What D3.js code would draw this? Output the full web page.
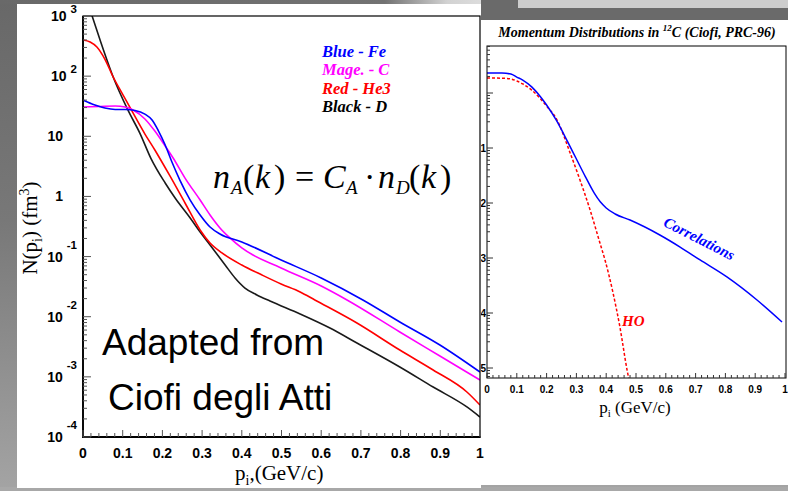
<!DOCTYPE html>
<html>
<head>
<meta charset="utf-8">
<script src="https://cdn.jsdelivr.net/npm/d3@7/dist/d3.min.js"></script>
<style>
html, body { margin: 0; padding: 0; background: #6c6c6c; overflow: hidden; }
svg { display: block; }
</style>
</head>
<body>
<svg id="chart" width="788" height="491"></svg>
<script>
// ---- Momentum distributions N(p_i) in fm^3, per nucleus (left panel) ----
const kFe = [0, 0.030, 0.055, 0.081, 0.106, 0.131, 0.156, 0.174, 0.189, 0.207, 0.224, 0.244, 0.270, 0.295, 0.320, 0.345, 0.400, 0.499, 0.600, 0.705, 0.798, 0.899, 1.0];
const nFe = [40.1, 33.1, 29.5, 27.9, 27.9, 26.9, 23.4, 18.7, 12.7, 7.16, 3.73, 1.87, 0.871, 0.491, 0.310, 0.237, 0.175, 0.0877, 0.0441, 0.0190, 0.00817, 0.00338, 0.00120];

const kC = [0, 0.043, 0.081, 0.106, 0.126, 0.156, 0.181, 0.207, 0.227, 0.257, 0.295, 0.320, 0.345, 0.370, 0.400, 0.499, 0.600, 0.665, 0.798, 0.899, 1.0];
const nC = [30.7, 31.3, 31.8, 30.7, 27.4, 19.4, 12.2, 6.89, 4.36, 2.02, 0.871, 0.491, 0.299, 0.204, 0.139, 0.0646, 0.0324, 0.0190, 0.00557, 0.00222, 0.000885];

const kHe3 = [0, 0.018, 0.035, 0.055, 0.076, 0.101, 0.126, 0.156, 0.181, 0.219, 0.257, 0.295, 0.320, 0.350, 0.400, 0.451, 0.499, 0.547, 0.584, 0.690, 0.798, 0.882, 0.967, 1.0];
const nHe3 = [399, 370, 305, 192, 96.8, 48.5, 24.4, 10.9, 5.92, 2.19, 0.778, 0.277, 0.168, 0.115, 0.0724, 0.0493, 0.0350, 0.0258, 0.0190, 0.00785, 0.00279, 0.00130, 0.000560, 0.000340];

const kD = [0, 0.023, 0.043, 0.076, 0.113, 0.144, 0.171, 0.207, 0.232, 0.270, 0.295, 0.320, 0.358, 0.383, 0.408, 0.438, 0.471, 0.547, 0.622, 0.690, 0.798, 0.882, 0.967, 1.0];
const nD = [2700, 1000, 399, 96.8, 27.4, 11.0, 4.30, 1.67, 0.942, 0.438, 0.256, 0.156, 0.0724, 0.0441, 0.0300, 0.0230, 0.0182, 0.0111, 0.00649, 0.00366, 0.00146, 0.000678, 0.000316, 0.000215];

// ---- 12C: full calculation with correlations vs. harmonic oscillator (right panel) ----
const kCorr = [0, 0.05, 0.08, 0.10, 0.12, 0.15, 0.18, 0.20, 0.232, 0.27, 0.30, 0.33, 0.36, 0.38, 0.40, 0.43, 0.48, 0.58, 0.648, 0.715, 0.805, 0.906, 0.99];
const nCorr = [2.31, 2.31, 2.21, 1.95, 1.72, 1.29, 0.845, 0.605, 0.323, 0.132, 0.0631, 0.0302, 0.0151, 0.0105, 0.00813, 0.00631, 0.00490, 0.00262, 0.00158, 0.00092, 0.000452, 0.000172, 0.0000685];

const kHO = [0, 0.05, 0.08, 0.10, 0.12, 0.15, 0.18, 0.20, 0.235, 0.279, 0.312, 0.346, 0.379, 0.396, 0.423, 0.446, 0.47, 0.48];
const nHO = [1.87, 1.86, 1.80, 1.65, 1.46, 1.13, 0.778, 0.580, 0.323, 0.0811, 0.0262, 0.00746, 0.00187, 0.00092, 0.000231, 0.0000556, 0.0000092, 0.0000049];

// ---- axis labels and legend ----
const xTickLabels = ["0", "0.1", "0.2", "0.3", "0.4", "0.5", "0.6", "0.7", "0.8", "0.9", "1"];
const legendLabels = ["Blue - Fe", "Mage. - C", "Red - He3", "Black - D"];
const legendColors = ["#0000ff", "#ff00ff", "#ff0000", "#000000"];

const W = 788, H = 491;
const sans = "'Liberation Sans', Arial, Helvetica, sans-serif";
const serif = "'Liberation Serif', 'Times New Roman', Times, serif";

const svg = d3.select("#chart");
const defs = svg.append("defs");

// ---------- slide background ----------
const bgGrad = defs.append("linearGradient").attr("id", "bgGrad")
  .attr("x1", 0).attr("y1", 0).attr("x2", 0).attr("y2", 1);
bgGrad.append("stop").attr("offset", 0).attr("stop-color", "#686868");
bgGrad.append("stop").attr("offset", 0.45).attr("stop-color", "#787878");
bgGrad.append("stop").attr("offset", 1).attr("stop-color", "#a4a4a4");
svg.append("rect").attr("width", W).attr("height", H).attr("fill", "url(#bgGrad)");

const topGrad = defs.append("linearGradient").attr("id", "topGrad")
  .attr("x1", 0).attr("y1", 0).attr("x2", 1).attr("y2", 0);
topGrad.append("stop").attr("offset", 0).attr("stop-color", "#696969");
topGrad.append("stop").attr("offset", 0.8).attr("stop-color", "#727272");
topGrad.append("stop").attr("offset", 0.93).attr("stop-color", "#d2d2d2");
topGrad.append("stop").attr("offset", 1).attr("stop-color", "#dcdcdc");
svg.append("rect").attr("x", 0).attr("y", 0).attr("width", 481).attr("height", 4).attr("fill", "url(#topGrad)");
svg.append("rect").attr("x", 481).attr("y", 0).attr("width", 307).attr("height", 20).attr("fill", "#6a6a6a");
svg.append("rect").attr("x", 518).attr("y", 0).attr("width", 270).attr("height", 8).attr("fill", "#cdcdcd");
svg.append("rect").attr("x", 0).attr("y", 487).attr("width", W).attr("height", 4).attr("fill", "#a8a8a8");

// white panels
svg.append("rect").attr("x", 17).attr("y", 4).attr("width", 464).attr("height", 484).attr("fill", "#fff");
svg.append("rect").attr("x", 481).attr("y", 20).attr("width", 307).attr("height", 465).attr("fill", "#fff");

// helper: log-axis tick classification
const isDecade = v => Math.abs(Math.log10(v) - Math.round(Math.log10(v))) < 1e-6;

// =====================================================================
// Left panel: N(p_i) for Fe, C, He3, D
// =====================================================================
const L = { x0: 83, x1: 480, y0: 16, y1: 437 };
const xL = d3.scaleLinear().domain([0, 1]).range([L.x0, L.x1]);
const yL = d3.scaleLog().domain([1e-4, 1e3]).range([L.y1, L.y0]);

defs.append("clipPath").attr("id", "clipL").append("rect")
  .attr("x", L.x0).attr("y", L.y0).attr("width", L.x1 - L.x0).attr("height", L.y1 - L.y0);

const gL = svg.append("g");

// text annotations (drawn under the curves)
gL.append("text").attr("x", 102).attr("y", 355)
  .attr("font-family", sans).attr("font-size", 37).attr("fill", "#000").text("Adapted from");
gL.append("text").attr("x", 108).attr("y", 410)
  .attr("font-family", sans).attr("font-size", 37).attr("fill", "#000").text("Ciofi degli Atti");

const lineL = d3.line().x(d => xL(d[0])).y(d => yL(d[1])).curve(d3.curveMonotoneX);
const seriesL = [
  { k: kD, n: nD, color: "#1a1a1a" },
  { k: kHe3, n: nHe3, color: "#ff0000" },
  { k: kC, n: nC, color: "#ff00ff" },
  { k: kFe, n: nFe, color: "#0000ff" }
];
const curvesL = gL.append("g").attr("clip-path", "url(#clipL)");
seriesL.forEach(s => {
  curvesL.append("path")
    .datum(s.k.map((k, i) => [k, s.n[i]]))
    .attr("d", lineL)
    .attr("fill", "none")
    .attr("stroke", s.color)
    .attr("stroke-width", 1.6);
});

// frame
gL.append("rect").attr("x", L.x0).attr("y", L.y0).attr("width", L.x1 - L.x0).attr("height", L.y1 - L.y0)
  .attr("fill", "none").attr("stroke", "#000").attr("stroke-width", 1.2);
gL.append("line").attr("x1", L.x0).attr("x2", L.x0).attr("y1", L.y0).attr("y2", L.y1 + 0.8)
  .attr("stroke", "#000").attr("stroke-width", 1.8);
gL.append("line").attr("x1", L.x0 - 0.8).attr("x2", L.x1 + 0.6).attr("y1", L.y1).attr("y2", L.y1)
  .attr("stroke", "#000").attr("stroke-width", 1.8);

// y ticks (inward) and labels
const yTicksL = yL.ticks();
gL.append("g").selectAll("line").data(yTicksL).join("line")
  .attr("x1", L.x0).attr("x2", d => L.x0 + (isDecade(d) ? 8 : 4))
  .attr("y1", d => yL(d)).attr("y2", d => yL(d))
  .attr("stroke", "#555").attr("stroke-width", 1);

const yLab = gL.append("g").attr("font-family", sans).attr("font-weight", "bold").attr("fill", "#000");
yTicksL.filter(isDecade).forEach(v => {
  const e = Math.round(Math.log10(v));
  const y = yL(v);
  if (e === 0 || e === 1) {
    yLab.append("text").attr("x", 63).attr("y", y + 5).attr("text-anchor", "end")
      .attr("font-size", 14).text(e === 0 ? "1" : "10");
  } else {
    const t = yLab.append("text").attr("x", 77).attr("y", y + 5).attr("text-anchor", "end").attr("font-size", 14);
    t.append("tspan").text("10");
    t.append("tspan").attr("dx", 4).attr("dy", e < 0 ? -13 : -8).attr("font-size", 11.5).text(String(e));
  }
});

// x ticks every 0.02, majors every 0.1
const xTicksL = d3.range(0, 51).map(i => i / 50);
gL.append("g").selectAll("line").data(xTicksL).join("line")
  .attr("x1", d => xL(d)).attr("x2", d => xL(d))
  .attr("y1", L.y1).attr("y2", (d, i) => L.y1 - (i % 5 === 0 ? 7 : 4))
  .attr("stroke", "#555").attr("stroke-width", 1);
gL.append("g").selectAll("text").data(xTickLabels).join("text")
  .attr("x", (d, i) => xL(i / 10)).attr("y", 458)
  .attr("text-anchor", "middle").attr("font-family", sans).attr("font-weight", "bold")
  .attr("font-size", 14).attr("fill", "#000").text(d => d);

// axis titles
const xtL = gL.append("text").attr("x", 235).attr("y", 480)
  .attr("font-family", serif).attr("font-size", 21).attr("fill", "#000");
xtL.append("tspan").text("p");
xtL.append("tspan").attr("dy", 5).attr("font-size", 14).text("i");
xtL.append("tspan").attr("dy", -5).text(",(GeV/c)");

const ytL = gL.append("text").attr("transform", "translate(37,228) rotate(-90)")
  .attr("text-anchor", "middle").attr("font-family", serif).attr("font-size", 21).attr("fill", "#000");
ytL.append("tspan").text("N(p");
ytL.append("tspan").attr("dy", 5).attr("font-size", 14).text("i");
ytL.append("tspan").attr("dy", -5).text(") (fm");
ytL.append("tspan").attr("dy", -8).attr("font-size", 14).text("3");
ytL.append("tspan").attr("dy", 8).text(")");

// legend
const leg = gL.append("g").attr("font-family", serif).attr("font-weight", "bold")
  .attr("font-style", "italic").attr("font-size", 16.5);
legendLabels.forEach((lab, i) => {
  leg.append("text").attr("x", 322).attr("y", 57 + i * 18.3).attr("fill", legendColors[i]).text(lab);
});

// scaling relation n_A(k) = C_A . n_D(k)
const eq = gL.append("g").attr("font-family", serif).attr("font-size", 34).attr("fill", "#000");
const eqMain = (x, s, it) => eq.append("text").attr("x", x).attr("y", 188)
  .attr("font-style", it ? "italic" : "normal").text(s);
const eqSub = (x, s) => eq.append("text").attr("x", x).attr("y", 194)
  .attr("font-style", "italic").attr("font-size", 19).text(s);
eqMain(213, "n", true); eqSub(231, "A");
eqMain(243, "(", false); eqMain(255, "k", true); eqMain(274, ")", false);
eqMain(295, "=", false);
eqMain(323, "C", true); eqSub(346, "A");
eqMain(364, "\u00b7", false);
eqMain(378, "n", true); eqSub(396, "D");
eqMain(409, "(", false); eqMain(421, "k", true); eqMain(440, ")", false);

// =====================================================================
// Right panel: 12C momentum distribution (correlated vs HO)
// =====================================================================
const R = { x0: 487, x1: 786, y0: 46, y1: 378 };
const xR = d3.scaleLinear().domain([0, 1]).range([487, 785]);
const yR = d3.scaleLog().domain([1e-5, 1e-1]).range([368, 148]);

defs.append("clipPath").attr("id", "clipR").append("rect")
  .attr("x", R.x0).attr("y", R.y0).attr("width", R.x1 - R.x0).attr("height", R.y1 - R.y0);
defs.append("clipPath").attr("id", "clipPanelR").append("rect")
  .attr("x", 481).attr("y", 20).attr("width", 307).attr("height", 465);

const gR = svg.append("g").attr("clip-path", "url(#clipPanelR)");

// title
const title = gR.append("text").attr("x", 637).attr("y", 37).attr("text-anchor", "middle")
  .attr("font-family", serif).attr("font-weight", "bold").attr("font-style", "italic")
  .attr("font-size", 14).attr("fill", "#000");
title.append("tspan").text("Momentum Distributions in ");
title.append("tspan").attr("dy", -6).attr("font-size", 9).text("12");
title.append("tspan").attr("dy", 6).text("C (Ciofi, PRC-96)");

const lineR = d3.line().x(d => xR(d[0])).y(d => yR(d[1])).curve(d3.curveMonotoneX);
const curvesR = gR.append("g").attr("clip-path", "url(#clipR)");
curvesR.append("path")
  .datum(kHO.map((k, i) => [k, nHO[i]]))
  .attr("d", lineR).attr("fill", "none").attr("stroke", "#ff0000")
  .attr("stroke-width", 1.5).attr("stroke-dasharray", "3,2");
curvesR.append("path")
  .datum(kCorr.map((k, i) => [k, nCorr[i]]))
  .attr("d", lineR).attr("fill", "none").attr("stroke", "#0000ff").attr("stroke-width", 1.5);

// frame
gR.append("rect").attr("x", R.x0).attr("y", R.y0).attr("width", R.x1 - R.x0).attr("height", R.y1 - R.y0)
  .attr("fill", "none").attr("stroke", "#000").attr("stroke-width", 1);

// y ticks over the visible range
const yTicksR = d3.scaleLog().domain([yR.invert(R.y1), yR.invert(R.y0)]).ticks();
gR.append("g").selectAll("line").data(yTicksR).join("line")
  .attr("x1", R.x0).attr("x2", d => R.x0 + (isDecade(d) ? 6 : 3))
  .attr("y1", d => yR(d)).attr("y2", d => yR(d))
  .attr("stroke", "#333").attr("stroke-width", 1);
const yLabR = gR.append("g").attr("font-family", sans).attr("font-weight", "bold")
  .attr("font-size", 10).attr("fill", "#000");
yTicksR.filter(isDecade).forEach(v => {
  const e = Math.round(Math.log10(v));
  const y = yR(v) + 3.5;
  yLabR.append("text").attr("x", 477).attr("y", y).attr("text-anchor", "end").text(e === 0 ? "1" : "10");
  if (e !== 0) yLabR.append("text").attr("x", 486).attr("y", y).attr("text-anchor", "end").text(String(e));
});

// x ticks
const xTicksR = d3.range(0, 51).map(i => i / 50);
gR.append("g").selectAll("line").data(xTicksR).join("line")
  .attr("x1", d => xR(d)).attr("x2", d => xR(d))
  .attr("y1", R.y1).attr("y2", (d, i) => R.y1 - (i % 5 === 0 ? 5 : 3))
  .attr("stroke", "#333").attr("stroke-width", 1);
gR.append("g").selectAll("text").data(xTickLabels).join("text")
  .attr("x", (d, i) => xR(i / 10)).attr("y", 393)
  .attr("text-anchor", "middle").attr("font-family", sans).attr("font-weight", "bold")
  .attr("font-size", 10).attr("fill", "#000").text(d => d);

const xtR = gR.append("text").attr("x", 635).attr("y", 413).attr("text-anchor", "middle")
  .attr("font-family", serif).attr("font-size", 17).attr("fill", "#000");
xtR.append("tspan").text("p");
xtR.append("tspan").attr("dy", 4).attr("font-size", 11).text("i");
xtR.append("tspan").attr("dy", -4).text(" (GeV/c)");

// curve annotations
gR.append("text").attr("transform", "translate(697,243) rotate(27)").attr("text-anchor", "middle")
  .attr("font-family", serif).attr("font-weight", "bold").attr("font-style", "italic")
  .attr("font-size", 15).attr("fill", "#0000ff").text("Correlations");
gR.append("text").attr("x", 622).attr("y", 326)
  .attr("font-family", serif).attr("font-weight", "bold").attr("font-style", "italic")
  .attr("font-size", 15).attr("fill", "#ff0000").text("HO");
</script>
</body>
</html>
